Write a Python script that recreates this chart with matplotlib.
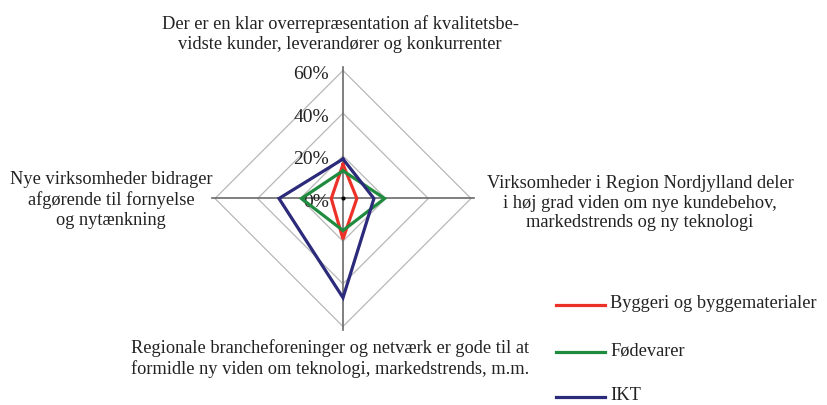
import numpy as np
import matplotlib
matplotlib.use("Agg")
import matplotlib.pyplot as plt

categories = [
    "Der er en klar overrepræsentation af kvalitetsbe-\nvidste kunder, leverandører og konkurrenter",
    "Virksomheder i Region Nordjylland deler\ni høj grad viden om nye kundebehov,\nmarkedstrends og ny teknologi",
    "Regionale brancheforeninger og netværk er gode til at\nformidle ny viden om teknologi, markedstrends, m.m.",
    "Nye virksomheder bidrager\nafgørende til fornyelse\nog nytænkning",
]
series_names = ["Byggeri og byggematerialer", "Fødevarer", "IKT"]
byggeri = [16, 6.5, 19, 5.5]
fodevarer = [13, 19.5, 15, 19.5]
ikt = [18.5, 14.5, 46.5, 30]
ticks = [0, 20, 40, 60]
tick_labels = ["0%", "20%", "40%", "60%"]
colors = ["#ec3228", "#1f8b3f", "#2c2a7a"]

plt.rcParams["font.family"] = ["Liberation Serif", "DejaVu Serif"]

W, H = 828, 405
fig = plt.figure(figsize=(W / 100, H / 100), dpi=100)
ax = fig.add_axes([0, 0, 1, 1])
cx, cy = 343, 198.5
s = 128 / 60.0
ax.set_xlim(-cx / s, (W - cx) / s)
ax.set_ylim(-(H - cy) / s, cy / s)
ax.axis("off")

angles = np.deg2rad([90, 0, -90, 180])
ca, sa = np.cos(angles), np.sin(angles)

# grid diamonds
for t in ticks[1:]:
    xs = np.append(t * ca, t * ca[0])
    ys = np.append(t * sa, t * sa[0])
    ax.plot(xs, ys, color="#b8b8b8", lw=0.9, zorder=1)
# axes spokes
rmax = ticks[-1] + 1.5
for c_, s_ in zip(ca, sa):
    ax.plot([0, rmax * c_], [0, rmax * s_], color="#6a6a6a", lw=1.2, zorder=2)
ax.plot([0], [0], marker="o", ms=2, color="black", zorder=3)

for t, lab in zip(ticks, tick_labels):
    ax.text(-6.5, t - 1.9, lab, ha="right", va="center", fontsize=14, color="#222222", zorder=4)

for vals, col, name in zip([byggeri, fodevarer, ikt], colors, series_names):
    v = np.array(vals)
    xs = np.append(v * ca, v[0] * ca[0])
    ys = np.append(v * sa, v[0] * sa[0])
    ax.plot(xs, ys, color=col, lw=2.3, solid_joinstyle="miter", zorder=5, label=name)

fs = 13.2
ls = 1.22
def px(x, y):
    return x / W, 1 - y / H

fig.text(*px(340, 34), categories[0], ha="center", va="center", fontsize=fs, linespacing=ls, color="#222222")
fig.text(*px(640, 203), categories[1], ha="center", va="center", fontsize=fs, linespacing=ls, color="#222222")
fig.text(*px(330, 359), categories[2], ha="center", va="center", fontsize=fs, linespacing=ls, color="#222222")
fig.text(*px(111, 200), categories[3], ha="center", va="center", fontsize=fs, linespacing=ls, color="#222222")

# legend
leg_y = [305, 352, 397]
for name, col, yy in zip(series_names, colors, leg_y):
    fig.add_artist(plt.Line2D([556 / W, 605 / W], [1 - yy / H, 1 - yy / H], color=col, lw=2.3))
    fig.text(*px(610, yy - 1), name, ha="left", va="center", fontsize=fs, color="#222222")

fig.savefig("out.png", dpi=100)
